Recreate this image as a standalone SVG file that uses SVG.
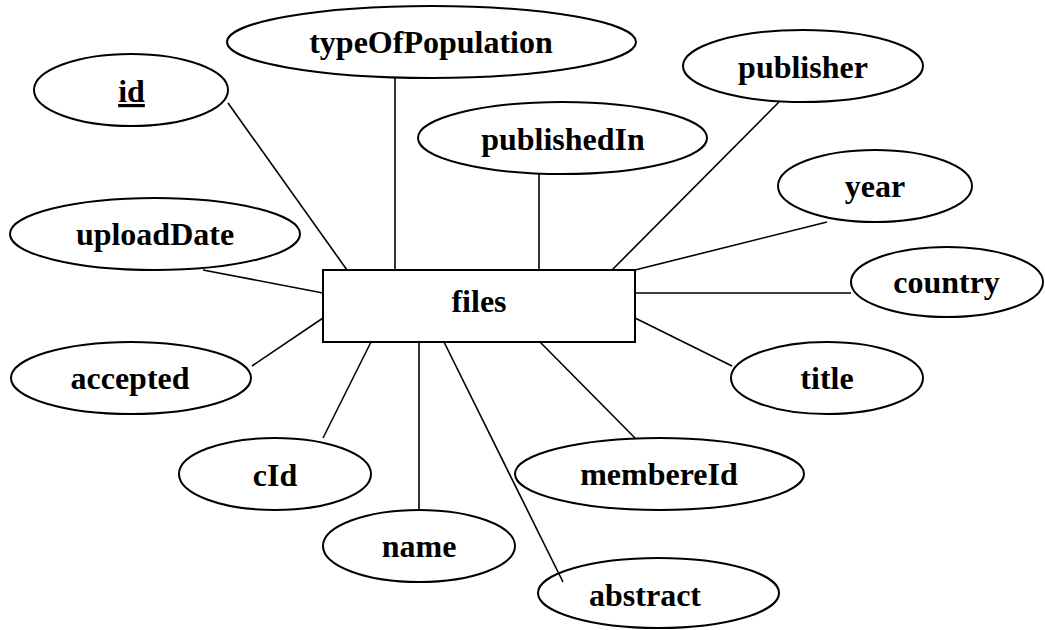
<svg xmlns="http://www.w3.org/2000/svg" width="1045" height="630" viewBox="0 0 1045 630">
  <style>
    .attr { fill: #ffffff; stroke: #000000; stroke-width: 2; }
    .entity { fill: #ffffff; stroke: #000000; stroke-width: 2; }
    .label { font-weight: bold; font-size: 32px; fill: #000000; text-anchor: middle; }
    .key { text-decoration: underline; }
    .conn line { stroke: #000000; stroke-width: 1.6; }
  </style>
  <rect width="1045" height="630" fill="#ffffff"/>

  <g font-family="'Liberation Serif', 'Times New Roman', 'DejaVu Serif', serif">
    <!-- entity -->
    <g id="files">
      <rect class="entity" x="323" y="270" width="312" height="72"/>
      <text class="label" x="479" y="312">files</text>
    </g>

    <!-- attributes -->
    <g id="attr-id">
      <ellipse class="attr" cx="131" cy="90" rx="97" ry="36"/>
      <text class="label key" x="131.5" y="102">id</text>
    </g>
    <g id="attr-typeOfPopulation">
      <ellipse class="attr" cx="431.5" cy="42" rx="204.5" ry="36"/>
      <text class="label" x="431" y="53">typeOfPopulation</text>
    </g>
    <g id="attr-publisher">
      <ellipse class="attr" cx="803" cy="66" rx="120" ry="36"/>
      <text class="label" x="803" y="78">publisher</text>
    </g>
    <g id="attr-publishedIn">
      <ellipse class="attr" cx="562.5" cy="138" rx="144.5" ry="36"/>
      <text class="label" x="563" y="150">publishedIn</text>
    </g>
    <g id="attr-year">
      <ellipse class="attr" cx="875" cy="186" rx="97" ry="36"/>
      <text class="label" x="875" y="197">year</text>
    </g>
    <g id="attr-uploadDate">
      <ellipse class="attr" cx="155" cy="234" rx="145" ry="36"/>
      <text class="label" x="155" y="245">uploadDate</text>
    </g>
    <g id="attr-country">
      <ellipse class="attr" cx="947" cy="282" rx="96" ry="35"/>
      <text class="label" x="946.5" y="293">country</text>
    </g>
    <g id="attr-accepted">
      <ellipse class="attr" cx="131" cy="378" rx="120" ry="36"/>
      <text class="label" x="130" y="389">accepted</text>
    </g>
    <g id="attr-title">
      <ellipse class="attr" cx="827" cy="378" rx="96" ry="36"/>
      <text class="label" x="827" y="389">title</text>
    </g>
    <g id="attr-cId">
      <ellipse class="attr" cx="275" cy="474" rx="96" ry="36"/>
      <text class="label" x="275" y="486">cId</text>
    </g>
    <g id="attr-membereId">
      <ellipse class="attr" cx="659.5" cy="474" rx="144.5" ry="36"/>
      <text class="label" x="659" y="485">membereId</text>
    </g>
    <g id="attr-name">
      <ellipse class="attr" cx="419" cy="546" rx="96" ry="36"/>
      <text class="label" x="419" y="557">name</text>
    </g>
    <g id="attr-abstract">
      <ellipse class="attr" cx="658.5" cy="593" rx="120.5" ry="35"/>
      <text class="label" x="645" y="606">abstract</text>
    </g>
  </g>

  <!-- connectors from the entity to each attribute -->
  <g id="connectors" class="conn">
    <line x1="228" y1="103" x2="347" y2="270"/>
    <line x1="395" y1="78" x2="395" y2="270"/>
    <line x1="539" y1="174" x2="539" y2="270"/>
    <line x1="779" y1="102" x2="612" y2="270"/>
    <line x1="827" y1="222" x2="635" y2="270"/>
    <line x1="203" y1="270" x2="323" y2="293"/>
    <line x1="635" y1="293" x2="851" y2="293"/>
    <line x1="252" y1="366" x2="323" y2="318"/>
    <line x1="635" y1="318" x2="732" y2="366"/>
    <line x1="371" y1="342" x2="323" y2="438"/>
    <line x1="419" y1="342" x2="419" y2="510"/>
    <line x1="444" y1="342" x2="563" y2="582"/>
    <line x1="540" y1="342" x2="635" y2="438"/>
  </g>
</svg>
